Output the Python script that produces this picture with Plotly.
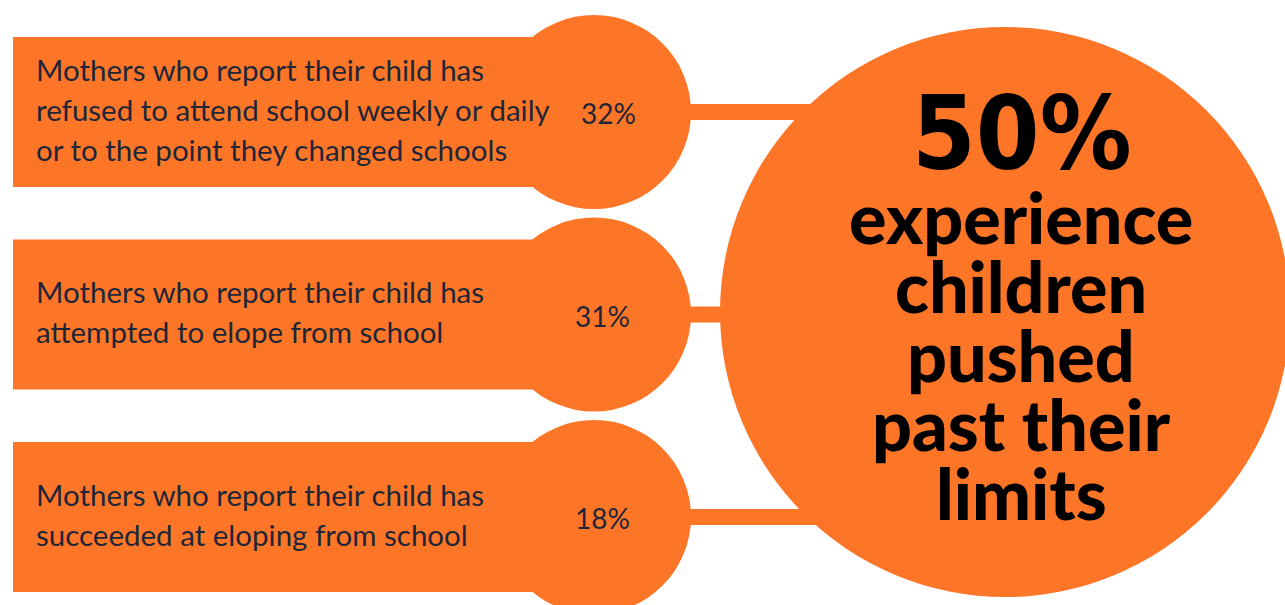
import plotly.graph_objects as go

# ---- data ----
stat_labels = [
    ["Mothers who report their child has",
     "refused to attend school weekly or daily",
     "or to the point they changed schools"],
    ["Mothers who report their child has",
     "attempted to elope from school"],
    ["Mothers who report their child has",
     "succeeded at eloping from school"],
]
stat_values = ["32%", "31%", "18%"]
headline_value = "50%"
headline_lines = ["experience", "children", "pushed", "past their", "limits"]

# ---- layout constants ----
W, H = 1285, 605
ORANGE = "#FD7628"
NAVY = "#1E2638"
row_centers = [112, 314.5, 517]
rect_left, rect_right, rect_half = 13, 560, 75
sc_cx, sc_r = 594, 97
big_cx, big_cy, big_r = 1005, 312, 285
conn_half = 8
value_x = [608, 602, 602]

shapes = []
annotations = []

for i, cy in enumerate(row_centers):
    shapes.append(dict(type="rect", x0=sc_cx, x1=big_cx - 150, y0=cy - conn_half, y1=cy + conn_half,
                       fillcolor=ORANGE, line=dict(width=0), layer="below"))
shapes.append(dict(type="circle", x0=big_cx - big_r, x1=big_cx + big_r,
                   y0=big_cy - big_r, y1=big_cy + big_r,
                   fillcolor=ORANGE, line=dict(width=0), layer="below"))
for i, cy in enumerate(row_centers):
    shapes.append(dict(type="circle", x0=sc_cx - sc_r, x1=sc_cx + sc_r, y0=cy - sc_r, y1=cy + sc_r,
                       fillcolor=ORANGE, line=dict(width=0), layer="below"))
    shapes.append(dict(type="rect", x0=rect_left, x1=rect_right, y0=cy - rect_half, y1=cy + rect_half,
                       fillcolor=ORANGE, line=dict(width=0), layer="below"))

    lines = stat_labels[i]
    n = len(lines)
    for j, txt in enumerate(lines):
        y = cy + (j - (n - 1) / 2) * 40 - 3
        annotations.append(dict(x=34, y=y, text=txt, showarrow=False, xanchor="left", yanchor="middle",
                                font=dict(family="Lato", size=29.5, color=NAVY)))
    annotations.append(dict(x=value_x[i], y=cy + 1, text=stat_values[i], showarrow=False,
                            xanchor="center", yanchor="middle",
                            font=dict(family="Lato", size=28, color=NAVY)))

annotations.append(dict(x=1022, y=133, text=headline_value, showarrow=False, xanchor="center",
                        yanchor="middle",
                        font=dict(family="DejaVu Sans Condensed", size=102,
                                  color="#000000", weight="bold")))
for k, txt in enumerate(headline_lines):
    annotations.append(dict(x=1021, y=217 + k * 69, text=txt, showarrow=False, xanchor="center",
                            yanchor="middle",
                            font=dict(family="Lato", size=70, color="#000000", weight=900)))

fig = go.Figure()
fig.update_layout(
    width=W, height=H, margin=dict(l=0, r=0, t=0, b=0),
    paper_bgcolor="white", plot_bgcolor="white",
    xaxis=dict(range=[0, W], visible=False, fixedrange=True),
    yaxis=dict(range=[H, 0], visible=False, fixedrange=True),
    shapes=shapes, annotations=annotations, showlegend=False,
)
fig.write_html("out.html", config={"displayModeBar": False})
